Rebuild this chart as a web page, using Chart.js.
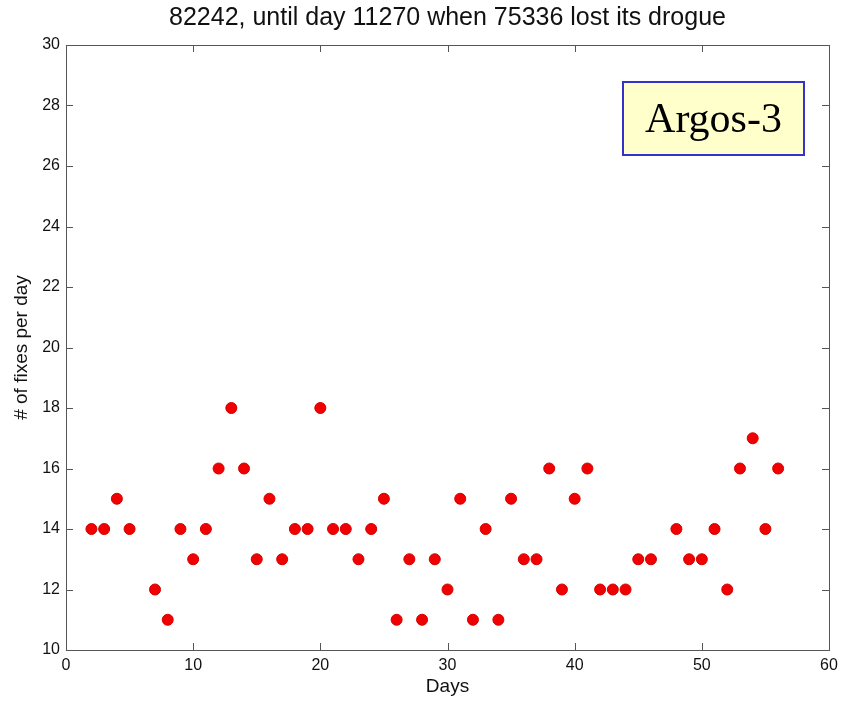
<!DOCTYPE html>
<html>
<head>
<meta charset="utf-8">
<script src="https://cdn.jsdelivr.net/npm/chart.js@4"></script>
<style>
  html, body { margin: 0; padding: 0; background: #fff; }
  #wrap { width: 846px; height: 701px; }
</style>
</head>
<body>
<div id="wrap"><canvas id="fixes"></canvas></div>
<script>
// data (days 6 and 47 have no point)
const days = [2, 3, 4, 5, 7, 8, 9, 10, 11, 12, 13, 14, 15, 16, 17, 18, 19, 20, 21, 22,
  23, 24, 25, 26, 27, 28, 29, 30, 31, 32, 33, 34, 35, 36, 37, 38, 39, 40, 41, 42,
  43, 44, 45, 46, 48, 49, 50, 51, 52, 53, 54, 55, 56];
const fixes = [14, 14, 15, 14, 12, 11, 14, 13, 14, 16, 18, 16, 13, 15, 13, 14, 14, 18, 14, 14,
  13, 14, 15, 11, 13, 11, 13, 12, 15, 11, 14, 11, 15, 13, 13, 16, 12, 15, 16, 12,
  12, 12, 13, 13, 14, 13, 13, 14, 12, 16, 17, 14, 16];
const xTicks = [0, 10, 20, 30, 40, 50, 60];
const yTicks = [10, 12, 14, 16, 18, 20, 22, 24, 26, 28, 30];

const chartTitle = "82242, until day 11270 when 75336 lost its drogue";
const boxLabel = "Argos-3";

const ctx = document.getElementById("fixes");

const dataset = [];
days.forEach((d, i) => {
  dataset.push({ x: d, y: fixes[i] });
});

// matlab style box with ticks pointing inward on all four sides
const boxTicks = {
  id: "boxTicks",
  afterDatasetsDraw(chart) {
    const c = chart.ctx;
    const a = chart.chartArea;
    const xs = chart.scales.x;
    const ys = chart.scales.y;
    const len = 7;
    c.save();
    c.strokeStyle = "#555";
    c.lineWidth = 1;
    c.strokeRect(a.left + 0.5, a.top + 0.5, a.right - a.left, a.bottom - a.top);
    c.beginPath();
    xTicks.forEach((t) => {
      const px = Math.round(xs.getPixelForValue(t)) + 0.5;
      c.moveTo(px, a.bottom);
      c.lineTo(px, a.bottom - len);
      c.moveTo(px, a.top);
      c.lineTo(px, a.top + len);
    });
    yTicks.forEach((t) => {
      const py = Math.round(ys.getPixelForValue(t)) + 0.5;
      c.moveTo(a.left, py);
      c.lineTo(a.left + len, py);
      c.moveTo(a.right, py);
      c.lineTo(a.right - len, py);
    });
    c.stroke();
    c.restore();
  },
  afterDraw(chart) {
    const c = chart.ctx;
    const a = chart.chartArea;
    c.save();
    // title, centred over the plot box like matlab does
    c.fillStyle = "#111";
    c.font = "25px 'Liberation Sans', Arial, sans-serif";
    c.textAlign = "center";
    c.textBaseline = "middle";
    c.fillText(chartTitle, (a.left + a.right) / 2, 18.5);

    // Argos-3 label box, top right inside the plot
    const bx = a.right - 206, by = a.top + 37, bw = 181, bh = 73;
    c.fillStyle = "#ffffcc";
    c.fillRect(bx, by, bw, bh);
    c.strokeStyle = "#3333cc";
    c.lineWidth = 2;
    c.strokeRect(bx, by, bw, bh);
    c.fillStyle = "#000";
    c.font = "42px 'Liberation Serif', 'Times New Roman', serif";
    c.fillText(boxLabel, bx + bw / 2, by + bh / 2 + 2);
    c.restore();
  },
};

new Chart(ctx, {
  type: "scatter",
  data: {
    datasets: [
      {
        label: "fixes",
        data: dataset,
        pointRadius: 5.5,
        pointHoverRadius: 5.5,
        borderWidth: 1,
        borderColor: "#d40000",
        backgroundColor: "#f00000",
      },
    ],
  },
  options: {
    responsive: true,
    maintainAspectRatio: false,
    animation: false,
    layout: {
      padding: { left: 0, right: 17, top: 45, bottom: 0 },
    },
    scales: {
      x: {
        type: "linear",
        min: 0,
        max: 60,
        afterBuildTicks: (s) => { s.ticks = xTicks.map((v) => ({ value: v })); },
        afterFit: (s) => { s.height = 51; },
        grid: { display: false, drawTicks: false },
        border: { display: false },
        ticks: { color: "#111", padding: 6, font: { family: "'Liberation Sans', Arial", size: 16 } },
        title: {
          display: true,
          text: "Days",
          color: "#111",
          padding: { top: 0, bottom: 3 },
          font: { family: "'Liberation Sans', Arial", size: 19 },
        },
      },
      y: {
        type: "linear",
        min: 10,
        max: 30,
        afterBuildTicks: (s) => { s.ticks = yTicks.map((v) => ({ value: v })); },
        afterFit: (s) => { s.width = 66; },
        grid: { display: false, drawTicks: false },
        border: { display: false },
        ticks: { color: "#111", padding: 6, font: { family: "'Liberation Sans', Arial", size: 16 } },
        title: {
          display: true,
          text: "# of fixes per day",
          color: "#111",
          padding: { top: 10, bottom: 0 },
          font: { family: "'Liberation Sans', Arial", size: 19 },
        },
      },
    },
    plugins: {
      legend: { display: false },
      tooltip: { enabled: false },
      title: { display: false },
    },
  },
  plugins: [boxTicks],
});
</script>
</body>
</html>
